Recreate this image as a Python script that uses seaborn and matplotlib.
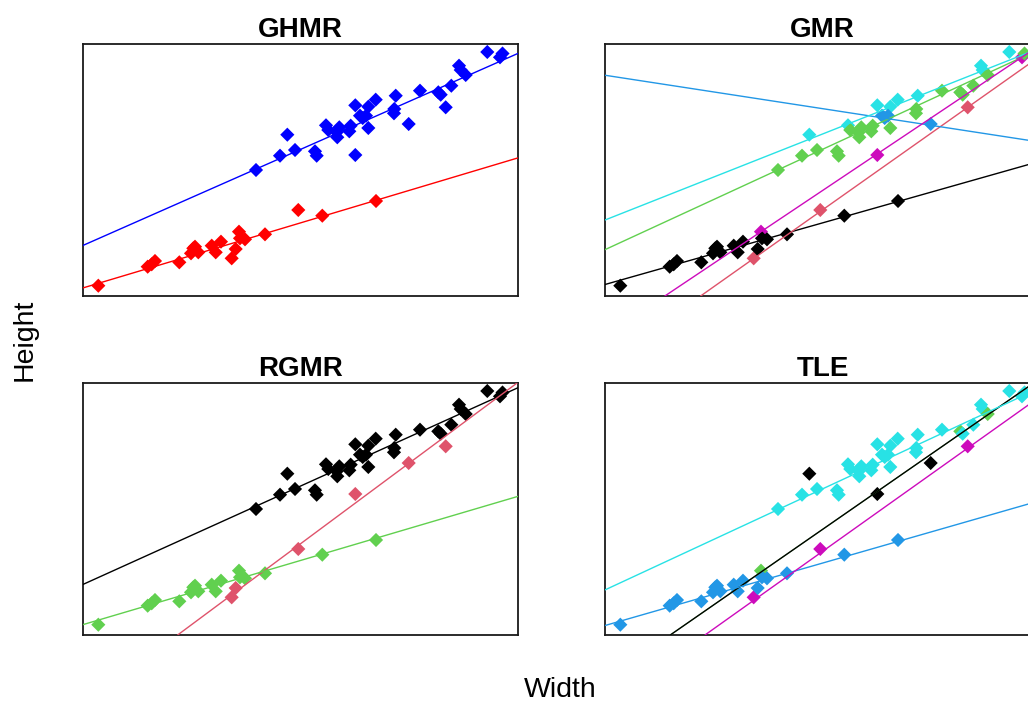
import numpy as np
import pandas as pd
import matplotlib
matplotlib.use("Agg")
import matplotlib.pyplot as plt
import seaborn as sns

# Shared measurements (arbitrary units)
width = [
    92.94, 95.86, 96.44, 86.44, 86.83, 87.98, 84.67, 77.47, 81.68, 82.23,
    71.89, 83.38, 67.29, 62.60, 65.59, 71.56, 71.49, 63.68, 65.06, 64.30,
    74.87, 65.59, 55.86, 56.39, 58.92, 58.32, 58.46, 61.54, 61.22, 46.97,
    48.74, 45.29, 53.33, 53.72, 62.60, 39.77,
    3.52, 14.87, 15.79, 16.55, 22.14, 24.83, 25.36, 26.51, 25.75, 29.59,
    30.51, 31.72, 34.18, 35.10, 35.86, 36.09, 37.24, 41.84, 49.49, 55.01,
    67.36,
]
height = [
    96.83, 94.72, 96.23, 91.39, 89.68, 87.70, 83.45, 81.47, 80.83, 79.88,
    79.48, 74.88, 77.90, 75.67, 75.12, 74.21, 72.50, 71.55, 71.55, 70.63,
    68.25, 66.67, 67.74, 65.87, 66.94, 64.96, 62.98, 67.58, 65.36, 64.01,
    57.94, 55.67, 57.42, 55.67, 55.95, 50.00,
    4.09, 11.63, 12.58, 13.89, 13.37, 16.94, 18.93, 17.34, 19.56, 19.96,
    17.34, 21.55, 14.96, 18.65, 25.52, 22.90, 22.50, 24.48, 34.13, 31.87,
    37.70,
]

# Group membership of each observation under each method
ghmr_groups = ["blue"] * 36 + ["red"] * 21
gmr_groups = [
    "cyan", "magenta", "green", "cyan", "cyan", "green", "green", "green", "green", "green",
    "cyan", "red", "cyan", "cyan", "cyan", "green", "green", "blue", "blue", "blue",
    "blue", "green", "cyan", "green", "green", "green", "green", "green", "green", "cyan",
    "green", "green", "green", "green", "magenta", "green",
    "black", "black", "black", "black", "black", "black", "black", "black", "black", "black",
    "black", "black", "red", "black", "magenta", "black", "black", "black", "red", "black",
    "black",
]
rgmr_groups = (
    ["black"] * 11 + ["red"] + ["black"] * 8 + ["red"] + ["black"] * 13 + ["red", "black"]
    + ["green"] * 12 + ["red", "red"] + ["green"] * 4 + ["red"] + ["green"] * 2
)
tle_groups = [
    "cyan", "cyan", "cyan", "cyan", "cyan", "green", "cyan", "cyan", "green", "cyan",
    "cyan", "magenta", "cyan", "cyan", "cyan", "cyan", "cyan", "cyan", "cyan", "cyan",
    "black", "cyan", "cyan", "cyan", "cyan", "cyan", "cyan", "cyan", "cyan", "black",
    "cyan", "cyan", "cyan", "cyan", "black", "cyan",
    "blue", "blue", "blue", "blue", "blue", "blue", "blue", "blue", "blue", "blue",
    "blue", "blue", "magenta", "blue", "green", "blue", "blue", "blue", "magenta", "blue",
    "blue",
]

# Fitted regression lines per group: (group, intercept, slope)
ghmr_lines = [("blue", 20.07, 0.762), ("red", 3.21, 0.516)]
gmr_lines = [
    ("black", 4.56, 0.489), ("red", -26.81, 1.2196), ("green", 18.39, 0.7962),
    ("blue", 87.60, -0.2651), ("cyan", 30.15, 0.6825), ("magenta", -15.89, 1.1547),
]
rgmr_lines = [("black", 20.07, 0.7806), ("red", -27.88, 1.2815), ("green", 4.12, 0.509)]
tle_lines = [
    ("green", -17.96, 1.197), ("black", -17.96, 1.197), ("blue", 3.76, 0.4955),
    ("cyan", 17.89, 0.8017), ("magenta", -28.23, 1.228),
]

titles = ["GHMR", "GMR", "RGMR", "TLE"]

r_palette = {
    "black": "#000000", "red": "#DF536B", "green": "#61D04F",
    "blue": "#2297E6", "cyan": "#28E2E5", "magenta": "#CD0BBC",
}
pure_palette = {"blue": "#0000FF", "red": "#FF0000"}

sns.set_theme(style="white")
plt.rcParams["font.family"] = ["Liberation Sans", "DejaVu Sans"]

fig = plt.figure(figsize=(10.28, 7.02), dpi=100)
W, H = 1028, 702
boxes = [(83, 44), (605, 44), (83, 383), (605, 383)]
pw, ph = 435, 252

panels = [
    (ghmr_groups, ghmr_lines, pure_palette),
    (gmr_groups, gmr_lines, r_palette),
    (rgmr_groups, rgmr_lines, r_palette),
    (tle_groups, tle_lines, r_palette),
]

for (left, top), title, (groups, lines, pal) in zip(boxes, titles, panels):
    ax = fig.add_axes([left / W, (H - top - ph) / H, pw / W, ph / H])
    df = pd.DataFrame({"Width": width, "Height": height, "group": groups})
    sns.scatterplot(data=df, x="Width", y="Height", hue="group", palette=pal,
                    marker="D", s=52, linewidth=0, legend=False, ax=ax, zorder=2)
    for g, b, m in lines:
        lw = 0.8 if g == "green" and pal is r_palette and title == "TLE" else 1.0
        ax.axline((0, b), slope=m, color=pal[g], linewidth=lw, zorder=3)
    ax.set_xlim(0, 100)
    ax.set_ylim(0, 100)
    ax.set_xticks([])
    ax.set_yticks([])
    ax.set_xlabel("")
    ax.set_ylabel("")
    for sp in ax.spines.values():
        sp.set_color("#1a1a1a")
        sp.set_linewidth(1.3)
    ax.set_title(title, fontsize=20, fontweight="bold", pad=5, color="black")

fig.text(25 / W, 1 - 340 / H, "Height", rotation=90, ha="center", va="center",
         fontsize=20.5, color="black")
fig.text(560 / W, 1 - 690 / H, "Width", ha="center", va="center",
         fontsize=20.5, color="black")

fig.savefig("out.png", dpi=100, facecolor="white")
